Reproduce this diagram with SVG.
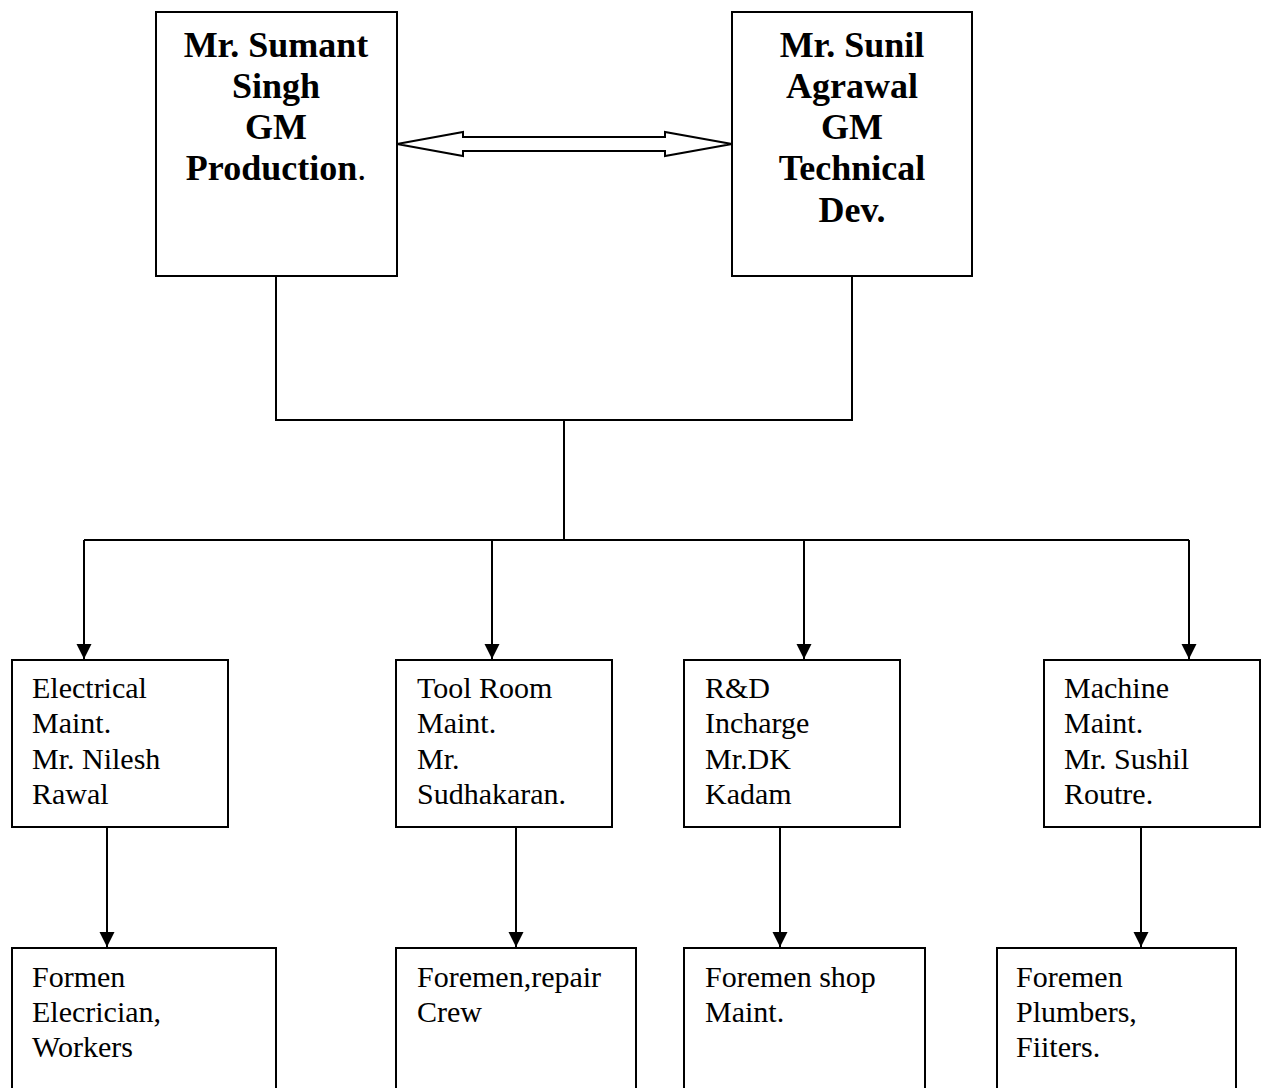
<svg xmlns="http://www.w3.org/2000/svg" width="1267" height="1088" viewBox="0 0 1267 1088">
  <style>
    .box { fill: #ffffff; stroke: #000000; stroke-width: 2; }
    .link { fill: none; stroke: #000000; stroke-width: 2; }
    .head { font-family: "Liberation Serif", "Times New Roman", serif; font-size: 36px; font-weight: bold; fill: #000000; text-anchor: middle; }
    .dot { font-weight: normal; }
    .unit { font-family: "Liberation Serif", "Times New Roman", serif; font-size: 30px; fill: #000000; }
  </style>
  <defs>
    <marker id="arrow" markerUnits="userSpaceOnUse" markerWidth="16" markerHeight="16" refX="15" refY="8" orient="auto">
      <path d="M0,0.5 L15,8 L0,15.5 Z" fill="#000000"/>
    </marker>
  </defs>
  <rect width="1267" height="1088" fill="#ffffff"/>

  <!-- connectors -->
  <g id="connectors">
    <!-- two-way link between the general managers -->
    <polygon class="link" points="397,144 463,132 463,137 665,137 665,132 732,144 665,156 665,151 463,151 463,156"/>
    <!-- managers joined to the common trunk -->
    <polyline class="link" points="276,276 276,420 852,420 852,276"/>
    <line class="link" x1="564" y1="420" x2="564" y2="540"/>
    <line class="link" x1="84" y1="540" x2="1189" y2="540"/>
    <!-- trunk to department heads -->
    <line class="link" x1="84" y1="540" x2="84" y2="659" marker-end="url(#arrow)"/>
    <line class="link" x1="492" y1="540" x2="492" y2="659" marker-end="url(#arrow)"/>
    <line class="link" x1="804" y1="540" x2="804" y2="659" marker-end="url(#arrow)"/>
    <line class="link" x1="1189" y1="540" x2="1189" y2="659" marker-end="url(#arrow)"/>
    <!-- department heads to their crews -->
    <line class="link" x1="107" y1="827" x2="107" y2="947" marker-end="url(#arrow)"/>
    <line class="link" x1="516" y1="827" x2="516" y2="947" marker-end="url(#arrow)"/>
    <line class="link" x1="780" y1="827" x2="780" y2="947" marker-end="url(#arrow)"/>
    <line class="link" x1="1141" y1="827" x2="1141" y2="947" marker-end="url(#arrow)"/>
  </g>

  <!-- general managers -->
  <g id="gm-production">
    <rect class="box" x="156" y="12" width="241" height="264"/>
    <text class="head" x="276" y="57">Mr. Sumant</text>
    <text class="head" x="276" y="98">Singh</text>
    <text class="head" x="276" y="139">GM</text>
    <text class="head" x="276" y="180">Production<tspan class="dot">.</tspan></text>
  </g>
  <g id="gm-technical">
    <rect class="box" x="732" y="12" width="240" height="264"/>
    <text class="head" x="852" y="57">Mr. Sunil</text>
    <text class="head" x="852" y="98">Agrawal</text>
    <text class="head" x="852" y="139">GM</text>
    <text class="head" x="852" y="180">Technical</text>
    <text class="head" x="852" y="222">Dev.</text>
  </g>

  <!-- department heads -->
  <g id="electrical-maint">
    <rect class="box" x="12" y="660" width="216" height="167"/>
    <text class="unit" x="32" y="698">Electrical</text>
    <text class="unit" x="32" y="733">Maint.</text>
    <text class="unit" x="32" y="769">Mr. Nilesh</text>
    <text class="unit" x="32" y="804">Rawal</text>
  </g>
  <g id="tool-room-maint">
    <rect class="box" x="396" y="660" width="216" height="167"/>
    <text class="unit" x="417" y="698">Tool Room</text>
    <text class="unit" x="417" y="733">Maint.</text>
    <text class="unit" x="417" y="769">Mr.</text>
    <text class="unit" x="417" y="804">Sudhakaran.</text>
  </g>
  <g id="rd-incharge">
    <rect class="box" x="684" y="660" width="216" height="167"/>
    <text class="unit" x="705" y="698">R&amp;D</text>
    <text class="unit" x="705" y="733">Incharge</text>
    <text class="unit" x="705" y="769">Mr.DK</text>
    <text class="unit" x="705" y="804">Kadam</text>
  </g>
  <g id="machine-maint">
    <rect class="box" x="1044" y="660" width="216" height="167"/>
    <text class="unit" x="1064" y="698">Machine</text>
    <text class="unit" x="1064" y="733">Maint.</text>
    <text class="unit" x="1064" y="769">Mr. Sushil</text>
    <text class="unit" x="1064" y="804">Routre.</text>
  </g>

  <!-- crews -->
  <g id="crew-electrical">
    <rect class="box" x="12" y="948" width="264" height="160"/>
    <text class="unit" x="32" y="987">Formen</text>
    <text class="unit" x="32" y="1022">Elecrician,</text>
    <text class="unit" x="32" y="1057">Workers</text>
  </g>
  <g id="crew-repair">
    <rect class="box" x="396" y="948" width="240" height="160"/>
    <text class="unit" x="417" y="987">Foremen,repair</text>
    <text class="unit" x="417" y="1022">Crew</text>
  </g>
  <g id="crew-shop">
    <rect class="box" x="684" y="948" width="241" height="160"/>
    <text class="unit" x="705" y="987">Foremen shop</text>
    <text class="unit" x="705" y="1022">Maint.</text>
  </g>
  <g id="crew-plumbing">
    <rect class="box" x="997" y="948" width="239" height="160"/>
    <text class="unit" x="1016" y="987">Foremen</text>
    <text class="unit" x="1016" y="1022">Plumbers,</text>
    <text class="unit" x="1016" y="1057">Fiiters.</text>
  </g>
</svg>
